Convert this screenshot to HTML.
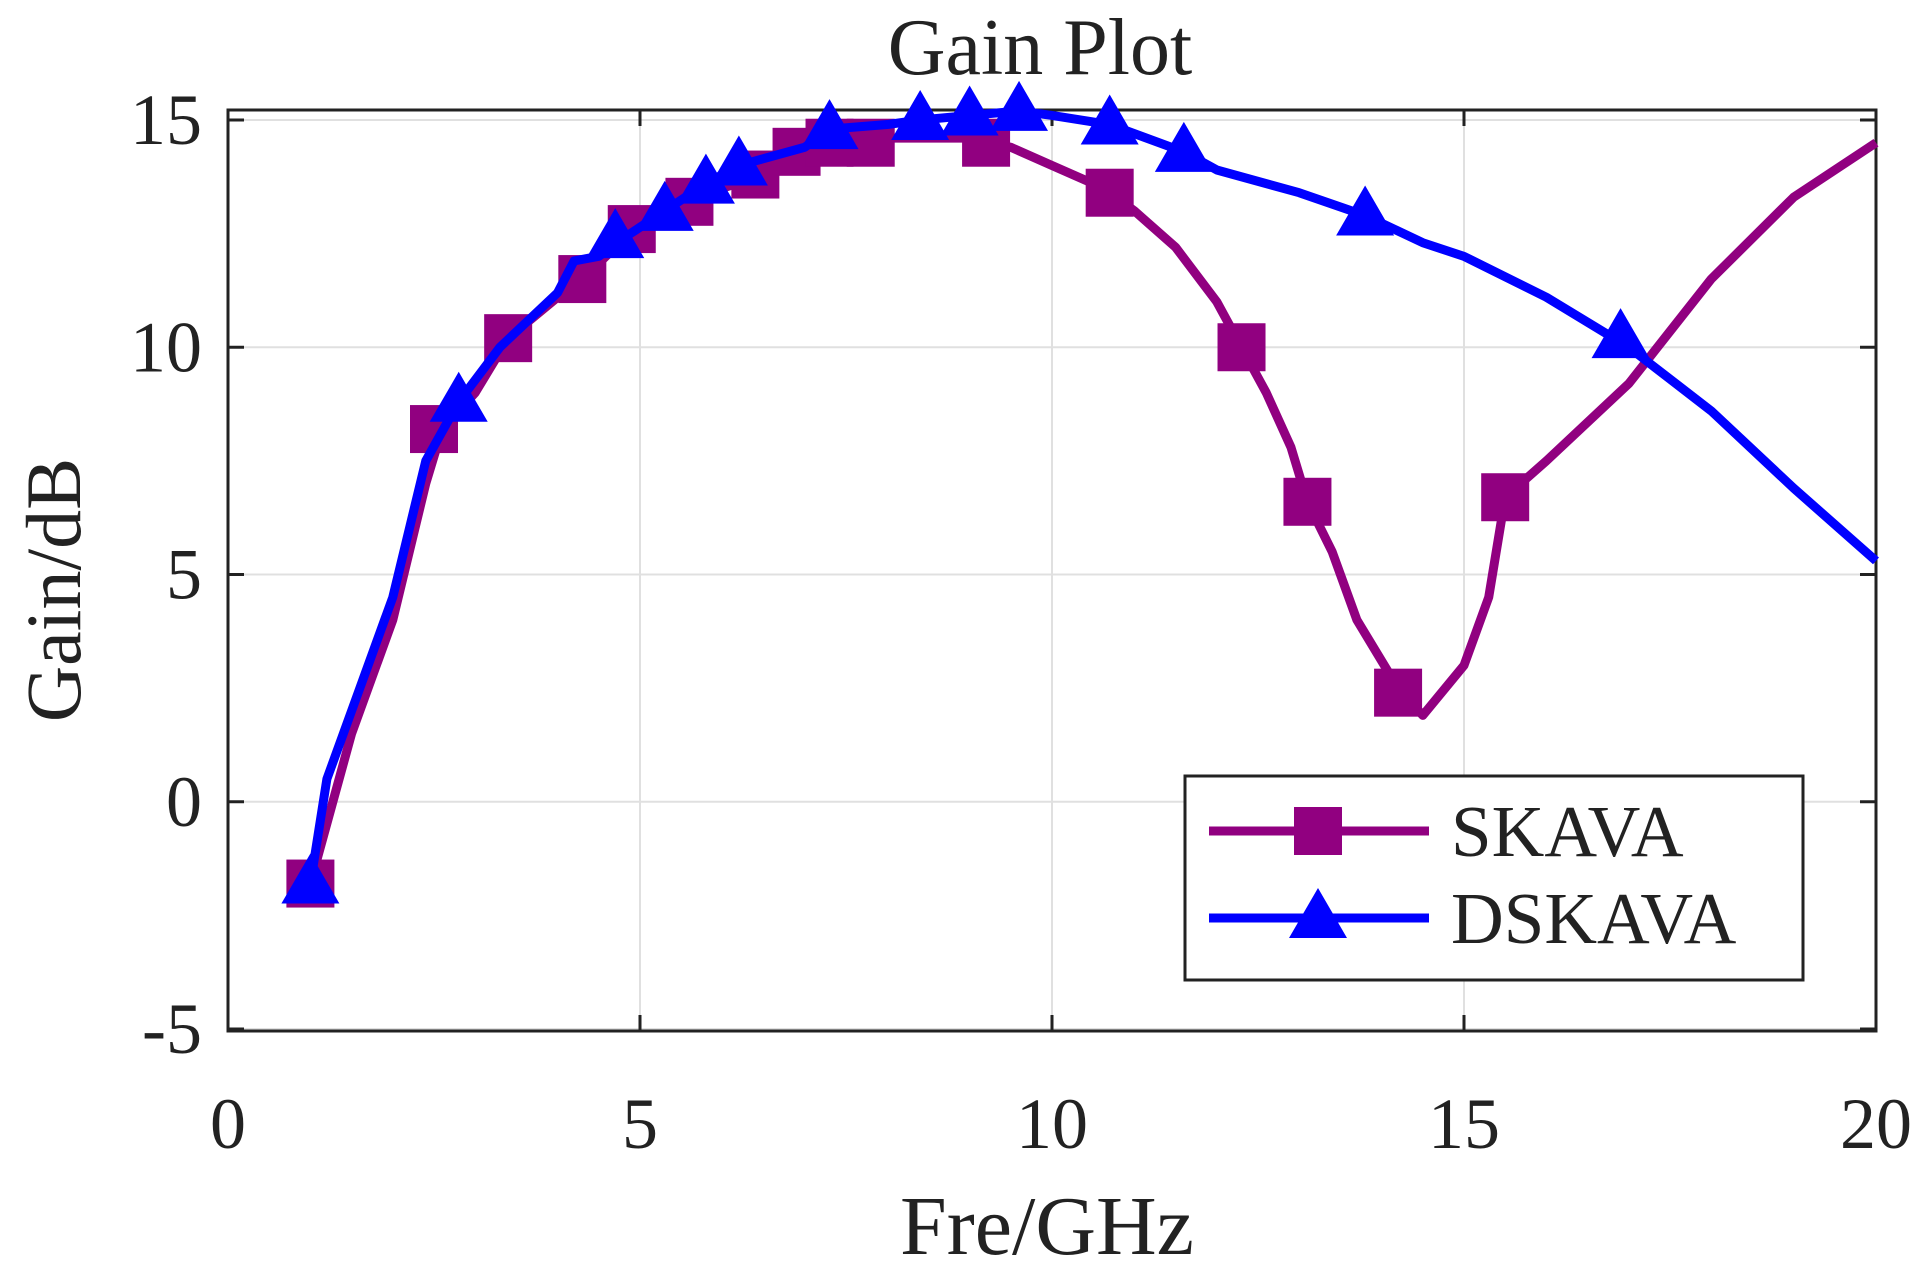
<!DOCTYPE html>
<html><head><meta charset="utf-8"><style>
html,body{margin:0;padding:0;background:#fff;}
svg{display:block;font-family:"Liberation Serif",serif;}
</style></head><body>
<svg id="chart" width="1931" height="1273" viewBox="0 0 1931 1273" xmlns="http://www.w3.org/2000/svg"></svg>
<script>
const xTicks=[0,5,10,15,20];
const yTicks=[-5,0,5,10,15];
const skavaX=[1,1.5,2,2.4,2.6,3,3.4,4,4.3,4.7,5,5.5,6,6.5,7,7.5,8,9,9.5,10,10.5,10.7,11,11.5,12,12.3,12.6,12.9,13.1,13.4,13.7,14.2,14.5,15,15.3,15.5,16,17,18,19,20];
const skavaY=[-1.8,1.5,4,7,8.2,9,10.2,11.1,11.5,12.2,12.6,13.1,13.5,13.8,14.3,14.5,14.6,14.6,14.4,14,13.6,13.4,13,12.2,11,10,9,7.8,6.6,5.5,4,2.5,1.9,3,4.5,6.7,7.5,9.2,11.5,13.3,14.5];
const skavaMX=[1,2.5,3.4,4.3,4.9,5.6,6.4,6.9,7.3,7.8,9.2,10.7,12.3,13.1,14.2,15.5];
const skavaMY=[-1.8,8.2,10.2,11.5,12.6,13.2,13.8,14.3,14.5,14.5,14.5,13.4,10,6.6,2.4,6.7];
const dskX=[1,1.2,1.6,2,2.4,2.8,3.3,4,4.2,4.5,4.8,5.3,5.8,6.2,7,7.3,8,8.4,9,9.6,10,10.7,11.6,12,13,13.8,14.5,15,16,17,18,19,20];
const dskY=[-1.8,0.5,2.5,4.5,7.5,8.8,10,11.2,11.9,12,12.4,13,13.6,14,14.4,14.8,14.9,15,15.1,15.2,15.1,14.9,14.3,13.9,13.4,12.9,12.3,12,11.1,10,8.6,6.9,5.3];
const dskMX=[1,2.8,4.7,5.3,5.8,6.2,7.3,8.4,9,9.6,10.7,11.6,13.8,16.9];
const dskMY=[-1.8,8.8,12.4,13,13.6,14,14.8,15,15.1,15.2,14.9,14.3,12.9,10.2];

const L=228,R=1876,T=110,B=1031;
const xs=v=>L+(v-0)/20*(R-L);
const ys=v=>120+(15-v)*45.45;
const svg=document.getElementById('chart');
const NS='http://www.w3.org/2000/svg';
function mk(tag,attrs,parent){const e=document.createElementNS(NS,tag);for(const k in attrs)e.setAttribute(k,attrs[k]);(parent||svg).appendChild(e);return e;}

xTicks.forEach(t=>{const g=mk('line',{x1:xs(t),x2:xs(t),y1:T,y2:B,stroke:'#e0e0e0','stroke-width':2});

});
yTicks.forEach(t=>{const g=mk('line',{x1:L,x2:R,y1:ys(t),y2:ys(t),stroke:'#e0e0e0','stroke-width':2});

});
const box=mk('rect',{x:L,y:T,width:R-L,height:B-T,fill:'none',stroke:'#222','stroke-width':3});


xTicks.forEach(t=>{mk('line',{x1:xs(t),x2:xs(t),y1:B,y2:B-16,stroke:'#222','stroke-width':3});mk('line',{x1:xs(t),x2:xs(t),y1:T,y2:T+16,stroke:'#222','stroke-width':3});
const tx=mk('text',{x:xs(t),y:1148,'font-size':72,'text-anchor':'middle',fill:'#222'});tx.textContent=t;

});
yTicks.forEach(t=>{mk('line',{x1:L,x2:L+16,y1:ys(t),y2:ys(t),stroke:'#222','stroke-width':3});mk('line',{x1:R,x2:R-16,y1:ys(t),y2:ys(t),stroke:'#222','stroke-width':3});
const tx=mk('text',{x:202,y:ys(t)+24,'font-size':72,'text-anchor':'end',fill:'#222'});tx.textContent=t;

});

function series(xa,ya,color,name){
 const p=mk('polyline',{points:xa.map((x,i)=>xs(x)+','+ys(ya[i])).join(' '),fill:'none',stroke:color,'stroke-width':9,'stroke-linejoin':'round'});
 
 
}
function sq(cx,cy,color){const r=mk('rect',{x:cx-24,y:cy-24,width:48,height:48,fill:color});

return r;}
function tri(cx,cy,color){const r=mk('polygon',{points:`${cx},${cy-30} ${cx-29},${cy+20} ${cx+29},${cy+20}`,fill:color});

return r;}
const P='#910080',Bl='#0000ff';
series(skavaX,skavaY,P,'skava');
skavaMX.forEach((x,i)=>sq(xs(x),ys(skavaMY[i]),P));
series(dskX,dskY,Bl,'dskava');
dskMX.forEach((x,i)=>tri(xs(x),ys(dskMY[i]),Bl));

const lg=mk('g',{});


mk('rect',{x:1185,y:776,width:618,height:204,fill:'#fff',stroke:'#222','stroke-width':3},lg);
mk('line',{x1:1209,x2:1429,y1:831,y2:831,stroke:P,'stroke-width':9},lg);
lg.appendChild(sq(1318,831,P));
mk('line',{x1:1209,x2:1429,y1:918,y2:918,stroke:Bl,'stroke-width':9},lg);
lg.appendChild(tri(1318,918,Bl));
const t1=mk('text',{x:1451,y:856,'font-size':73,fill:'#222'},lg);t1.textContent='SKAVA';


const t2=mk('text',{x:1451,y:943,'font-size':73,fill:'#222'},lg);t2.textContent='DSKAVA';



const title=mk('text',{x:1040,y:74,'font-size':80,'text-anchor':'middle',fill:'#222'});title.textContent='Gain Plot';


const xl=mk('text',{x:1047,y:1254,'font-size':84,'text-anchor':'middle',fill:'#222'});xl.textContent='Fre/GHz';


const yl=mk('text',{x:0,y:0,'font-size':78,'text-anchor':'middle',fill:'#222',transform:'translate(80,590) rotate(-90)'});yl.textContent='Gain/dB';


</script>
</body></html>
